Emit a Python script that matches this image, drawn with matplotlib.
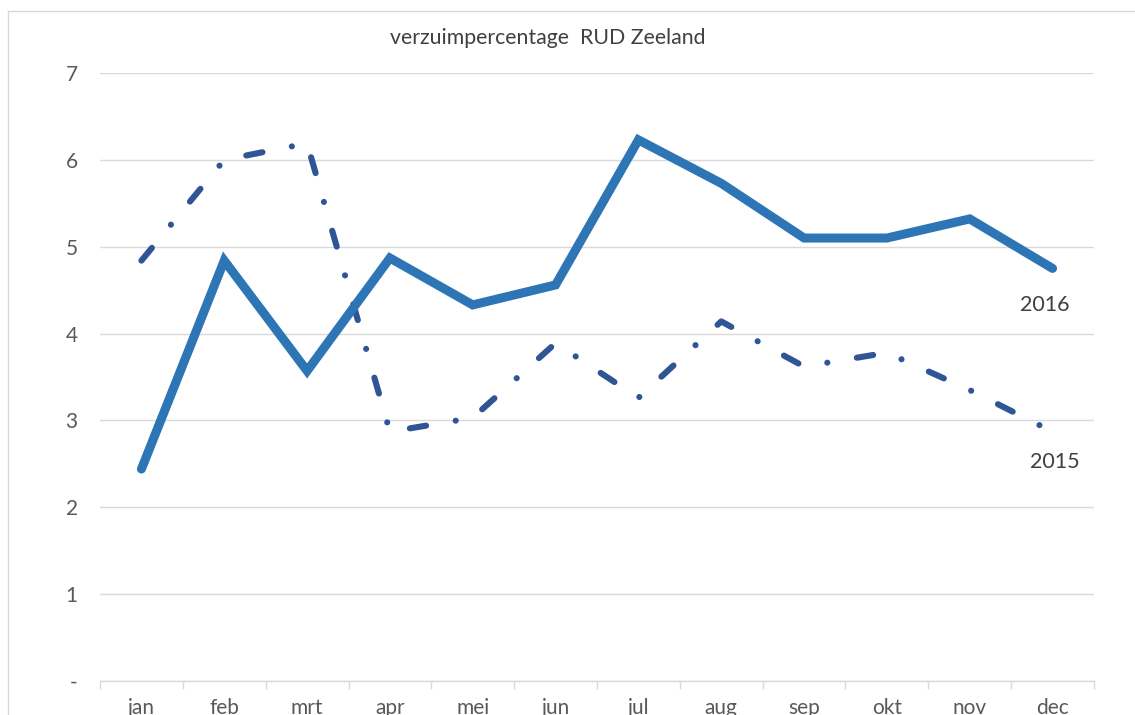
import numpy as np
import matplotlib.pyplot as plt
from matplotlib.lines import Line2D

maanden = ['jan', 'feb', 'mrt', 'apr', 'mei', 'jun',
           'jul', 'aug', 'sep', 'okt', 'nov', 'dec']
verzuim_2016 = [2.44, 4.84, 3.57, 4.87, 4.33, 4.56, 6.23, 5.73, 5.10, 5.10, 5.32, 4.75]
verzuim_2015 = [4.84, 6.00, 6.19, 2.87, 3.03, 3.89, 3.26, 4.14, 3.62, 3.78, 3.35, 2.87]
y_ticks = [0, 1, 2, 3, 4, 5, 6, 7]
y_labels = ['-', '1', '2', '3', '4', '5', '6', '7']

W, H = 1135, 715
plt.rcParams['font.family'] = ['Lato', 'DejaVu Sans']

fig = plt.figure(figsize=(W / 100, H / 100), dpi=100)

# plot area in pixels: left 100, right 1094, top 73 (y=7), bottom 681 (y=0)
ax = fig.add_axes([100 / W, 1 - 681 / H, 994 / W, 608 / H])

x = np.arange(len(maanden))
ax.plot(x, verzuim_2016, color='#2e75b6', lw=6.5,
        solid_capstyle='round', solid_joinstyle='miter', zorder=3)
ax.plot(x, verzuim_2015, color='#2f5597', lw=4.4,
        linestyle=(0, (2.7, 4.9, 0.01, 4.9)),
        dash_capstyle='round', dash_joinstyle='round', zorder=2)

# series labels next to the last point
ax.text(x[-1] - 0.09, verzuim_2016[-1] - 0.42, '2016', fontsize=15.5,
        color='#404040', ha='center', va='center')
ax.text(x[-1] + 0.03, verzuim_2015[-1] - 0.35, '2015', fontsize=15.5,
        color='#404040', ha='center', va='center')

ax.set_xlim(-0.5, len(maanden) - 0.5)
ax.set_ylim(0, 7)
ax.set_yticks(y_ticks)
ax.set_yticklabels(y_labels)
ax.set_xticks(x)
ax.set_xticklabels(maanden)
ax.set_xticks(np.arange(-0.5, len(maanden)), minor=True)

ax.grid(axis='y', color='#d9d9d9', lw=1)
ax.set_axisbelow(True)
for side in ['top', 'right', 'left']:
    ax.spines[side].set_visible(False)
ax.spines['bottom'].set_color('#d9d9d9')
ax.spines['bottom'].set_linewidth(1)

ax.tick_params(axis='y', length=0, pad=16, labelsize=15, labelcolor='#595959')
ax.tick_params(axis='x', which='major', length=0, pad=12, labelsize=15,
               labelcolor='#595959')
ax.tick_params(axis='x', which='minor', length=6, width=1, color='#d9d9d9')

fig.text(548 / W, 1 - 38 / H, 'verzuimpercentage  RUD Zeeland', fontsize=15.3,
         color='#404040', ha='center', va='center')

# chart frame
fig.add_artist(Line2D([8 / W, 8 / W], [0, 1 - 11 / H], transform=fig.transFigure,
                      color='#d9d9d9', lw=1))
fig.add_artist(Line2D([8 / W, 1], [1 - 11 / H, 1 - 11 / H], transform=fig.transFigure,
                      color='#d9d9d9', lw=1))

fig.savefig('out.png', dpi=100, facecolor='white')
